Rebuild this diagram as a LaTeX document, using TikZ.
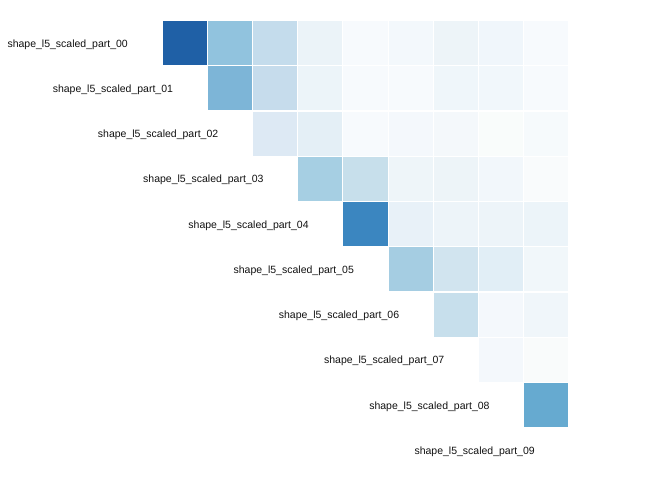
\documentclass[tikz,border=0pt]{standalone}
\usepackage{fontspec}
\setmainfont{Liberation Sans}
\definecolor{txt}{HTML}{111111}
\begin{document}
\begin{tikzpicture}[x=1pt,y=-1pt,
  cell/.style={draw=white,line width=1.2pt,minimum width=45.22pt,minimum height=45.22pt,inner sep=0pt,outer sep=0pt},
  lbl/.style={anchor=east,inner sep=0pt,text=txt,font=\fontsize{10.5}{12}\selectfont}]
\useasboundingbox (0,0) rectangle (672,480);
\def\px{45.22}
\foreach \r/\c/\col in {
 0/0/1F60A6, 0/1/91C3DE, 0/2/C4DCEC, 0/3/EBF3F8, 0/4/F7FAFD, 0/5/F3F8FC, 0/6/EDF4F8, 0/7/F0F6FB, 0/8/F7FAFD,
 1/1/7DB5D7, 1/2/C6DCEC, 1/3/ECF4F9, 1/4/F7FAFD, 1/5/F7FAFD, 1/6/EFF6FA, 1/7/F1F7FB, 1/8/F7FAFD,
 2/2/DDE9F4, 2/3/E4EFF6, 2/4/F7FAFD, 2/5/F4F8FC, 2/6/F4F8FB, 2/7/F9FCFB, 2/8/F6FAFC,
 3/3/A6CFE3, 3/4/C7DFEB, 3/5/EEF5F9, 3/6/EDF4F8, 3/7/F2F7FB, 3/8/F9FBFC,
 4/4/3B86C0, 4/5/E8F1F8, 4/6/EDF4F9, 4/7/EDF4F9, 4/8/ECF4F9,
 5/5/A5CDE2, 5/6/D1E4EF, 5/7/E1EEF6, 5/8/F1F7FA,
 6/6/C7DFEC, 6/7/F4F8FC, 6/8/F0F6FA,
 7/7/F4F8FC, 7/8/F9FBFB,
 8/8/66AAD0}{
  \definecolor{cc}{HTML}{\col}
  \node[cell,fill=cc] (cell\r\c) at ({162+\px*(\c+0.5)},{20.6+\px*(\r+0.5)}) {};
}
\foreach \r in {0,...,9}{
  \node[lbl] (lab\r) at ({162+\px*\r-34},{22.0+\px*(\r+0.5)}) {shape\_l5\_scaled\_part\_0\r};
}
\end{tikzpicture}
\end{document}
